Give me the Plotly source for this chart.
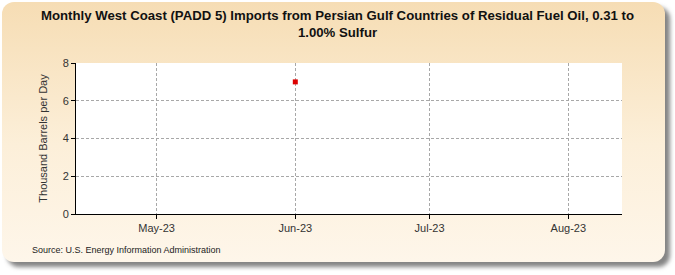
import base64
import plotly.graph_objects as go

dates = ["2023-06-01"]
values = [7.0]
tick_vals = ["2023-05-01", "2023-06-01", "2023-07-01", "2023-08-01"]
tick_text = ["May-23", "Jun-23", "Jul-23", "Aug-23"]
y_ticks = [0, 2, 4, 6, 8]

W, H = 675, 275
ML, MR, MT, MB = 76, 53, 63, 61
PW, PH = W - ML - MR, H - MT - MB

svg = f"""<svg xmlns='http://www.w3.org/2000/svg' width='{W}' height='{H}' viewBox='0 0 {W} {H}'>
<defs>
<linearGradient id='g' x1='0' y1='0' x2='0' y2='1'>
<stop offset='0' stop-color='#F6DDB4'/>
<stop offset='0.55' stop-color='#FCEFD9'/>
<stop offset='1' stop-color='#FEF6EA'/>
</linearGradient>
<filter id='b' x='-5%' y='-5%' width='110%' height='110%'><feGaussianBlur stdDeviation='2'/></filter>
</defs>
<rect x='0' y='0' width='{W}' height='{H}' fill='#FFFFFF'/>
<rect x='7' y='7' width='663' height='260' rx='12' ry='12' fill='#858585' filter='url(#b)'/>
<rect x='2' y='2' width='663' height='260' rx='12' ry='12' fill='url(#g)'/>
<rect x='{ML}' y='{MT}' width='{PW}' height='{PH}' fill='#FFFFFF'/>
</svg>"""
src = "data:image/svg+xml;base64," + base64.b64encode(svg.encode()).decode()

fig = go.Figure()
fig.add_trace(go.Scatter(
    x=dates, y=values, mode="markers",
    marker=dict(symbol="square", size=5, color="#DD0000"),
    hoverinfo="x+y", showlegend=False,
))

fig.update_layout(
    width=W, height=H,
    margin=dict(l=ML, r=MR, t=MT, b=MB),
    paper_bgcolor="#FFFFFF",
    plot_bgcolor="rgba(0,0,0,0)",
    font=dict(family="Liberation Sans, Arial, sans-serif", color="#222222"),
    images=[dict(source=src, xref="paper", yref="paper",
                 x=-ML / PW, y=1 + MT / PH,
                 sizex=W / PW, sizey=H / PH, xanchor="left", yanchor="top",
                 sizing="stretch", layer="below")],
    xaxis=dict(
        type="date", range=["2023-04-13", "2023-08-13"],
        tickvals=tick_vals, ticktext=tick_text,
        showgrid=True, gridcolor="#A8A8A8", griddash="3px,2px", gridwidth=1,
        showline=True, linecolor="#000000", linewidth=1,
        ticks="outside", ticklen=4, tickcolor="#000000",
        tickfont=dict(size=11, color="#333333"), zeroline=False,
    ),
    yaxis=dict(
        range=[0, 8], tickvals=y_ticks,
        showgrid=True, gridcolor="#A8A8A8", griddash="3px,2px", gridwidth=1,
        showline=True, linecolor="#000000", linewidth=1,
        ticks="outside", ticklen=4, tickcolor="#000000",
        tickfont=dict(size=11, color="#333333"), zeroline=False,
        title=dict(text="Thousand Barrels per Day", font=dict(size=11, color="#333333"), standoff=12),
    ),
    annotations=[
        dict(
            text="<b>Monthly West Coast (PADD 5) Imports from Persian Gulf Countries of Residual Fuel Oil, 0.31 to<br>1.00% Sulfur</b>",
            xref="paper", yref="paper", x=(W / 2 - ML) / PW, y=1 + (MT - 6) / PH,
            xanchor="center", yanchor="top", showarrow=False,
            font=dict(size=13.2, color="#111111"),
        ),
        dict(
            text="Source: U.S. Energy Information Administration",
            xref="paper", yref="paper", x=(30 - ML) / PW, y=-(243 - (H - MB)) / PH,
            xanchor="left", yanchor="top",
            showarrow=False, font=dict(size=9, color="#222222"),
        ),
    ],
)

fig.write_html("out.html")
